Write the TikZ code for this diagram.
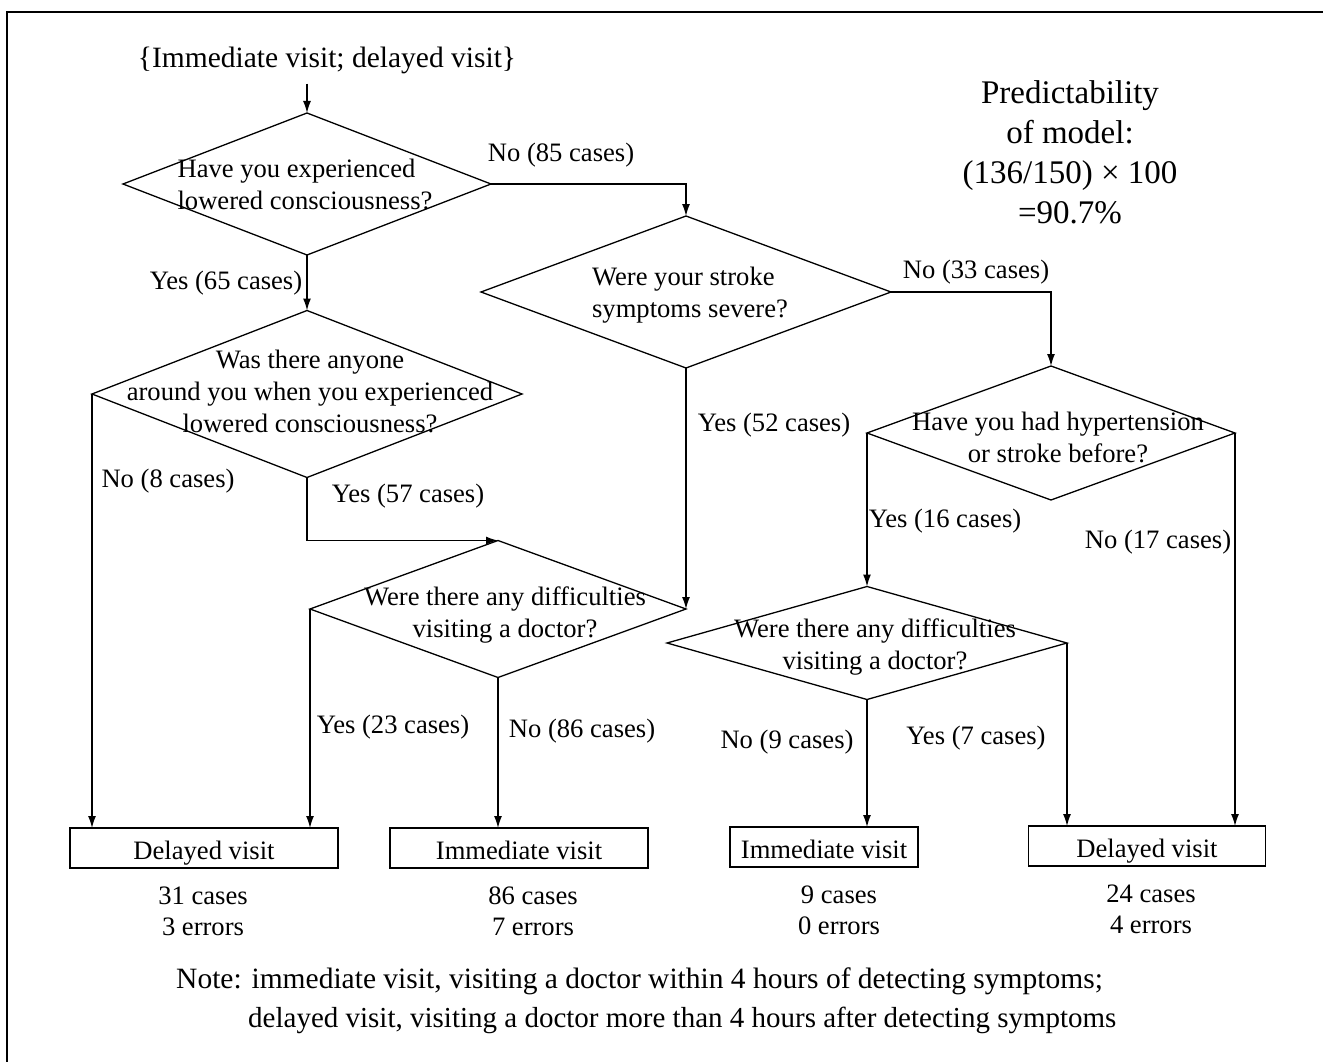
\documentclass[tikz,border=0pt]{standalone}
\usepackage{fontspec}
\setmainfont{Liberation Serif}
\usetikzlibrary{shapes.geometric,arrows.meta}
\tikzset{
  dia/.style={draw,diamond,inner sep=0pt,outer sep=0pt,line width=1.3pt},
  qtext/.style={align=center,inner sep=0pt,font=\fontsize{26.6}{32}\selectfont},
  lbl/.style={inner sep=0pt,font=\fontsize{26.6}{32}\selectfont},
  endbox/.style={draw,rectangle,inner sep=0pt,outer sep=0pt,line width=1.5pt,minimum height=40pt,text height=22pt,text depth=0pt,font=\fontsize{26.6}{32}\selectfont},
  count/.style={align=center,inner sep=0pt,font=\fontsize{26.6}{31}\selectfont},
  arr/.style={line width=1.3pt,-{Latex[length=12pt,width=8pt]}},
}

\begin{document}
\begin{tikzpicture}[x=1pt,y=-1pt]
\useasboundingbox (0,0) rectangle (1323,1062);
\draw[line width=1.6pt] (1323,12) -- (7,12) -- (7,1062);
\node[lbl,font=\fontsize{29.5}{35}\selectfont] (top) at (327,60) {\{Immediate visit; delayed visit\}};
\node[align=center,inner sep=0pt,font=\fontsize{33}{40}\selectfont] (pred) at (1070,152) {Predictability\\of model:\\(136/150) × 100\\=90.7\%};
\node[dia,minimum width=368pt,minimum height=142pt] (q1) at (307,184) {};
\node[qtext,align=left] (t1) at (305,184) {Have you experienced\\lowered consciousness?};
\node[dia,minimum width=410pt,minimum height=152pt] (q2) at (686,292) {};
\node[qtext,align=left] (t2) at (690,295) {Were your stroke\\symptoms severe?};
\node[dia,minimum width=368pt,minimum height=134pt] (q3) at (1051,433) {};
\node[qtext] (t3) at (1058,437) {Have you had hypertension\\or stroke before?};
\node[dia,minimum width=430pt,minimum height=167pt] (q4) at (307,394) {};
\node[qtext] (t4) at (310,391) {Was there anyone\\around you when you experienced\\lowered consciousness?};
\node[dia,minimum width=400pt,minimum height=113pt] (q5) at (867,643) {};
\node[qtext] (t5) at (875,647) {Were there any difficulties\\visiting a doctor?};
\node[dia,minimum width=376pt,minimum height=137pt] (q6) at (498,609) {};
\node[qtext] (t6) at (505,615) {Were there any difficulties\\visiting a doctor?};
\node[endbox,minimum width=268pt] (b1) at (204,848) {Delayed visit};
\node[endbox,minimum width=258pt] (b2) at (519,848) {Immediate visit};
\node[endbox,minimum width=188pt] (b3) at (824,847) {Immediate visit};
\node[endbox,minimum width=237pt] (b4) at (1147,846) {Delayed visit};
\node[count] (n1) at (203,911) {31 cases\\3 errors};
\node[count] (n2) at (533,911) {86 cases\\7 errors};
\node[count] (n3) at (839,910) {9 cases\\0 errors};
\node[count] (n4) at (1151,909) {24 cases\\4 errors};
\draw[arr] ([yshift=-10pt]top.south -| q1.north) -- (q1.north);
\draw[arr] (q1.east) -| (q2.north);
\draw[arr] (q1.south) -- (q4.north);
\draw[arr] (q2.east) -| (q3.north);
\draw[arr] (q2.south) -- (q6.east);
\draw[arr] (q4.south) |- (q6.north);
\draw[arr] (q4.west) -- (q4.west |- b1.north);
\draw[arr] (q6.west) -- (q6.west |- b1.north);
\draw[arr] (q6.south) -- (q6.south |- b2.north);
\draw[arr] (q3.west) -- (q5.north);
\draw[arr] (q3.east) -- (q3.east |- b4.north);
\draw[arr] (q5.south) -- (q5.south |- b3.north);
\draw[arr] (q5.east) -- (q5.east |- b4.north);
\node[lbl] (l1) at (561,155) {No (85 cases)};
\node[lbl] (l2) at (226,283) {Yes (65 cases)};
\node[lbl] (l3) at (976,272) {No (33 cases)};
\node[lbl] (l4) at (774,425) {Yes (52 cases)};
\node[lbl] (l5) at (168,481) {No (8 cases)};
\node[lbl] (l6) at (408,496) {Yes (57 cases)};
\node[lbl] (l7) at (945,521) {Yes (16 cases)};
\node[lbl] (l8) at (1158,542) {No (17 cases)};
\node[lbl] (l9) at (393,727) {Yes (23 cases)};
\node[lbl] (l10) at (582,731) {No (86 cases)};
\node[lbl] (l11) at (787,742) {No (9 cases)};
\node[lbl] (l12) at (976,738) {Yes (7 cases)};
\node[lbl,anchor=west,font=\fontsize{29.5}{35}\selectfont] (note1) at (176,981) {Note: immediate visit, visiting a doctor within 4 hours of detecting symptoms;};
\node[lbl,anchor=west,font=\fontsize{29}{35}\selectfont] (note2) at (248,1020) {delayed visit, visiting a doctor more than 4 hours after detecting symptoms};
\end{tikzpicture}
\end{document}
